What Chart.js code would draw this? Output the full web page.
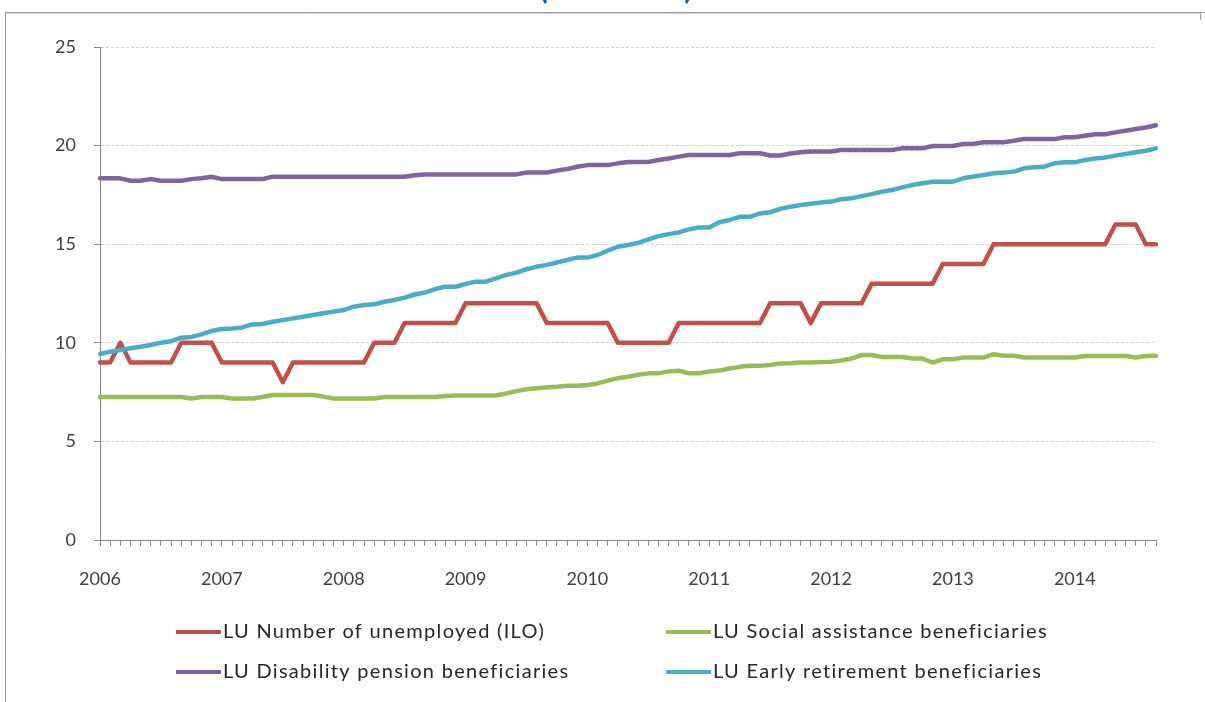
<!DOCTYPE html>
<html><head><meta charset="utf-8">
<script src="https://cdn.jsdelivr.net/npm/chart.js@4.4.0/dist/chart.umd.min.js"></script>
<style>html,body{margin:0;padding:0;background:#fff;overflow:hidden}#wrap{position:relative;width:1205px;height:702px}</style>
</head><body><div id="wrap"><canvas id="c" width="1205" height="702"></canvas></div>
<script>
const yearTicks = ['2006','2007','2008','2009','2010','2011','2012','2013','2014'];
const months = [];
yearTicks.forEach(y => { for (let m = 1; m <= 12; m++) months.push(y + '-' + String(m).padStart(2, '0')); });
const categories = months.slice(0, 105);

const seriesNames = ['LU Number of unemployed (ILO)', 'LU Social assistance beneficiaries', 'LU Disability pension beneficiaries', 'LU Early retirement beneficiaries'];

const unemployed = [9,9,10,9,9,9,9,9, 10,10,10,10, 9,9,9,9,9,9, 8, 9,9,9,9,9,9,9,9, 10,10,10, 11,11,11,11,11,11,
  12,12,12,12,12,12,12,12, 11,11,11,11,11,11,11, 10,10,10,10,10,10, 11,11,11,11,11,11,11,11,11,
  12,12,12,12, 11, 12,12,12,12,12, 13,13,13,13,13,13,13, 14,14,14,14,14,
  15,15,15,15,15,15,15,15,15,15,15,15, 16,16,16, 15,15];

const socialAssistance = [7.25,7.25,7.25,7.25,7.25,7.25,7.25,7.25,7.25, 7.18, 7.25,7.25,7.25, 7.18,7.18,7.18, 7.25,
  7.35,7.35,7.35,7.35,7.35, 7.27, 7.18,7.18,7.18,7.18,7.18, 7.25,7.25,7.25,7.25,7.25,7.25, 7.3,
  7.33,7.33,7.33,7.33,7.33,
  7.43,7.55,7.64,7.69,7.74,7.77,7.82,7.82,7.86,7.94, 8.08,8.2,8.28,8.38,8.45,8.45,8.55,8.58,8.45,8.45,
  8.55,8.59,8.7,8.78,8.84,8.84,8.87,8.95,8.96,9.0, 9.0,9.02,9.04,9.1,9.2,9.38,9.38,9.28,9.28,9.28,
  9.2,9.2,9.0,9.16,9.17,9.25,9.25,9.25,9.42,9.34, 9.34,
  9.25,9.25,9.25,9.25,9.25,9.25, 9.33,9.33,9.33,9.33,9.33, 9.25,9.33,9.34];

const disabilityPension = [18.34,18.34,18.34, 18.22,18.22, 18.3, 18.22,18.22,18.22, 18.3, 18.34, 18.42,
  18.3,18.3,18.3,18.3,18.3,
  18.42,18.42,18.42,18.42,18.42,18.42,18.42,18.42,18.42,18.42,18.42,18.42,18.42,18.42,
  18.5, 18.54,18.54,18.54,18.54,18.54,18.54,18.54,18.54,18.54,18.54,
  18.64,18.64,18.64, 18.73,18.81,18.93, 19.01,19.01,19.01, 19.1, 19.17,19.17,19.17, 19.27,19.35,19.44,
  19.52,19.52,19.52,19.52,19.52, 19.61,19.61,19.61, 19.5,19.5, 19.6,19.66,19.7, 19.7,19.7,
  19.78,19.78,19.78,19.78,19.78,19.78, 19.86,19.86,19.86, 19.98,19.98,19.98, 20.08,20.08,
  20.17,20.17,20.17, 20.25, 20.33,20.33,20.33,20.33, 20.42,20.42, 20.5, 20.58,20.58,
  20.67,20.75,20.84,20.92,21.03];

const earlyRetirement = [9.43,9.55,9.63,9.72,9.8,9.89,10.0,10.08,10.26,10.3,
  10.43,10.6,10.7,10.73,10.78,10.93,10.95,11.07,11.15,11.24,
  11.32,11.41,11.5,11.58,11.66,11.83,11.92,11.95,12.08,12.17,
  12.29,12.45,12.55,12.72,12.84,12.84,
  12.98,13.1,13.1,13.27,13.44,13.56,13.73,13.86,13.95,14.07,
  14.2,14.32,14.32,14.45,14.67,14.87,14.96,15.07,15.24,15.41,
  15.51,15.6,15.75,15.85,15.85,16.11,16.23,16.39,16.39,16.56,
  16.62,16.79,16.9,16.99,
  17.05,17.11,17.16,17.28,17.33,17.44,17.54,17.66,17.75,17.88,
  18.0,18.09,18.17,18.17,18.17,18.34,18.43,18.51,18.6,18.63,
  18.68,18.85,18.9,18.93,19.1,19.15,19.15,19.27,19.35,19.4,
  19.49,19.57,19.66,19.74,19.86];

const yTicks = [0, 5, 10, 15, 20, 25];
const colors = ['#c0504d', '#9bbb59', '#8064a2', '#4bacc6'];
const FONT = 'Lato, "Open Sans", "Liberation Sans", sans-serif';

const decor = {
  id: 'decor',
  beforeDraw(chart) {
    const ctx = chart.ctx;
    ctx.save();
    ctx.fillStyle = '#fff';
    ctx.fillRect(0, 0, chart.width, chart.height);
    ctx.strokeStyle = '#9a9a9a';
    ctx.lineWidth = 1;
    ctx.beginPath();
    ctx.moveTo(5.5, 702); ctx.lineTo(5.5, 12.5); ctx.lineTo(1205, 12.5);
    ctx.moveTo(1200.5, 12.5); ctx.lineTo(1200.5, 20);
    ctx.stroke();
    ctx.strokeStyle = '#d4d4d4';
    ctx.beginPath(); ctx.moveTo(6, 13.5); ctx.lineTo(1200, 13.5); ctx.stroke();
    ctx.fillStyle = '#1f5f9f';
    ctx.font = 'bold 30px ' + FONT;
    ctx.textAlign = 'center';
    ctx.textBaseline = 'alphabetic';
    ctx.fillText('(thousands)', 616, -1);
    ctx.restore();
  },
  afterDraw(chart) {
    const ctx = chart.ctx;
    const pos = [[176, 632], [666, 632], [176, 672], [666, 672]];
    ctx.save();
    chart.data.datasets.forEach((ds, i) => {
      const [x, y] = pos[i];
      ctx.strokeStyle = ds.borderColor;
      ctx.lineWidth = 4;
      ctx.lineCap = 'butt';
      ctx.beginPath(); ctx.moveTo(x, y); ctx.lineTo(x + 45, y); ctx.stroke();
      ctx.fillStyle = '#262626';
      ctx.font = '20px ' + FONT;
      ctx.letterSpacing = '1.3px';
      ctx.textAlign = 'left';
      ctx.textBaseline = 'middle';
      ctx.fillText(ds.label, x + 47, y);
    });
    ctx.restore();
  }
};

const seriesData = [unemployed, socialAssistance, disabilityPension, earlyRetirement];

new Chart(document.getElementById('c'), {
  type: 'line',
  data: {
    labels: categories,
    datasets: seriesData.map((d, i) => ({
      label: seriesNames[i],
      data: d,
      borderColor: colors[i],
      backgroundColor: colors[i],
      borderWidth: 4.5,
      pointRadius: 0,
      tension: 0,
      borderJoinStyle: 'round',
      borderCapStyle: 'round',
      order: 4 - i
    }))
  },
  options: {
    responsive: false,
    animation: false,
    devicePixelRatio: 1,
    layout: { padding: { left: 5, right: 49, top: 47, bottom: 0 } },
    plugins: { legend: { display: false }, tooltip: { enabled: false }, title: { display: false } },
    scales: {
      x: {
        type: 'category',
        offset: false,
        afterFit: s => { s.height = 162; },
        grid: { display: true, drawOnChartArea: false, drawTicks: true, tickLength: 6, color: '#868686' },
        border: { display: true, color: '#868686', width: 1 },
        ticks: {
          autoSkip: false, maxRotation: 0, minRotation: 0, padding: 22,
          color: '#404040', font: { family: FONT, size: 18 },
          callback: (v, i) => (i % 12 === 0 ? yearTicks[i / 12] : '')
        }
      },
      y: {
        min: 0, max: 25,
        afterFit: s => { s.width = 95; },
        afterBuildTicks: s => { s.ticks = yTicks.map(v => ({ value: v })); },
        grid: {
          color: c => (c.tick && c.tick.value === 0 ? 'rgba(0,0,0,0)' : '#d0d0d0'),
          tickColor: '#868686', tickLength: 6, drawTicks: true
        },
        border: { display: true, color: '#868686', width: 1, dash: [3, 2] },
        ticks: { padding: 18, color: '#404040', font: { family: FONT, size: 18 } }
      }
    }
  },
  plugins: [decor]
});
</script>
</body></html>
